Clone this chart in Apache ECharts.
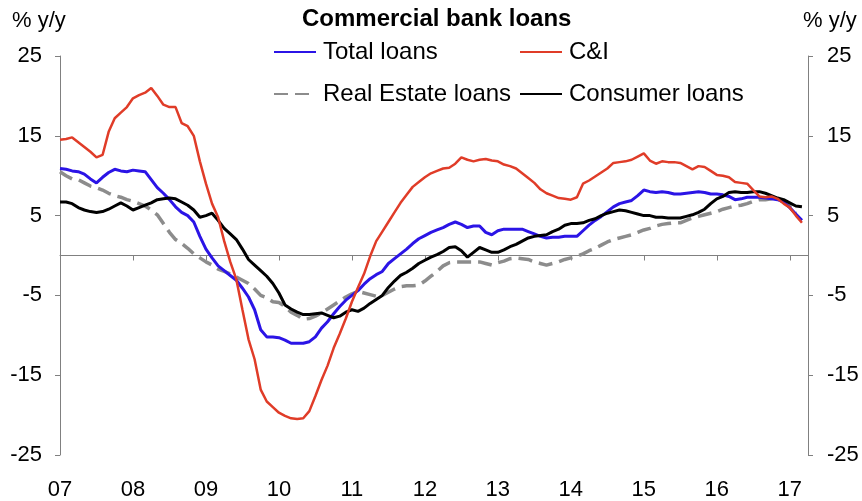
<!DOCTYPE html>
<html>
<head>
<meta charset="utf-8">
<script src="https://cdn.jsdelivr.net/npm/echarts@6/dist/echarts.min.js"></script>
<style>
  html, body { margin: 0; padding: 0; background: #fff; }
  #chart { width: 862px; height: 501px; }
</style>
</head>
<body>
<div id="chart"></div>
<script>
// Monthly observations, Jan 2007 onward (% y/y)
const totalLoans = [
  10.9, 10.8, 10.6, 10.5, 10.2, 9.6, 9.1, 9.8, 10.4, 10.8, 10.6, 10.5,
  10.7, 10.6, 10.5, 9.5, 8.5, 7.8, 7.0, 6.1, 5.4, 5.0, 4.2, 2.4,
  0.8, -0.3, -1.3, -1.9, -2.5, -3.1, -4.1, -5.2, -6.8, -9.3, -10.2, -10.2,
  -10.3, -10.6, -11.0, -11.0, -11.0, -10.8, -10.2, -9.1, -8.3, -7.3, -6.4, -5.6,
  -5.0, -4.4, -3.6, -2.9, -2.4, -2.0, -1.0, -0.4, 0.2, 0.8, 1.5, 2.1,
  2.5, 2.9, 3.2, 3.5, 3.9, 4.2, 3.9, 3.5, 3.7, 3.7, 2.9, 2.6,
  3.1, 3.3, 3.3, 3.3, 3.3, 3.0, 2.7, 2.4, 2.2, 2.3, 2.3, 2.4,
  2.4, 2.4, 3.1, 3.8, 4.4, 4.9, 5.5, 6.1, 6.5, 6.7, 6.9, 7.5,
  8.2, 8.0, 7.9, 8.0, 7.9, 7.7, 7.7, 7.8, 7.9, 8.0, 7.9, 7.7,
  7.7, 7.6, 7.4, 7.0, 7.1, 7.3, 7.3, 7.3, 7.2, 7.1, 7.0, 6.7,
  6.0, 5.2, 4.4
];

const cAndI = [
  14.5, 14.6, 14.8, 14.2, 13.6, 13.0, 12.3, 12.6, 15.5, 17.2, 17.9, 18.6,
  19.7, 20.1, 20.4, 21.0, 20.0, 18.9, 18.6, 18.6, 16.6, 16.2, 15.0, 11.8,
  9.0, 6.5, 4.8, 1.8, -0.8, -3.0, -6.8, -10.5, -13.0, -16.8, -18.3, -19.0,
  -19.7, -20.1, -20.4, -20.5, -20.4, -19.5, -17.6, -15.6, -13.8, -11.6, -9.8, -7.9,
  -5.8, -4.0, -2.3, -0.1, 1.8, 3.0, 4.2, 5.4, 6.6, 7.6, 8.6, 9.2,
  9.8, 10.3, 10.6, 10.9, 11.0, 11.5, 12.3, 12.0, 11.8, 12.0, 12.1, 11.9,
  11.8, 11.4, 11.2, 10.9, 10.3, 9.7, 9.1, 8.3, 7.8, 7.5, 7.2, 7.1,
  7.0, 7.3, 9.0, 9.4, 9.9, 10.4, 10.9, 11.6, 11.7, 11.8, 12.0, 12.4,
  12.8, 11.9, 11.5, 11.8, 11.7, 11.7, 11.6, 11.2, 10.8, 11.2, 11.1, 10.6,
  10.1, 10.0, 9.8, 9.2, 9.1, 9.0, 8.2, 7.4, 7.3, 7.4, 7.1, 6.5,
  6.0, 5.0, 4.1
];

const realEstate = [
  10.5, 10.0, 9.6, 9.5, 9.1, 8.7, 8.5, 8.2, 7.8, 7.5, 7.3, 7.0,
  6.8, 6.5, 6.2, 5.7, 5.1, 4.0, 2.9, 2.0, 1.5, 0.9, 0.2, -0.3,
  -0.8, -1.2, -1.7, -2.0, -2.3, -2.7, -3.1, -3.5, -4.2, -5.0, -5.3, -5.8,
  -5.9, -6.4, -7.1, -7.5, -8.0, -7.9, -7.6, -7.2, -6.7, -6.2, -5.7, -5.2,
  -4.8, -4.5, -4.7, -4.9, -5.1, -5.0, -4.6, -4.2, -3.9, -3.8, -3.8, -3.7,
  -3.2, -2.6, -2.0, -1.3, -0.9, -0.8, -0.8, -0.8, -0.8, -0.8, -1.0, -1.2,
  -0.9, -0.7, -0.4, -0.3, -0.4, -0.5, -0.8, -1.0, -1.2, -1.0, -0.8, -0.5,
  -0.3, -0.1, 0.2, 0.6, 0.9, 1.3, 1.7, 2.0, 2.2, 2.4, 2.6, 2.9,
  3.2, 3.4, 3.7, 3.9, 4.0, 4.1, 4.1, 4.4, 4.7, 4.9, 5.1, 5.3,
  5.5, 5.8, 6.0, 6.2, 6.3, 6.5, 6.8, 7.0, 7.0, 7.1, 7.1, 6.8,
  6.2, 5.3
];

const consumer = [
  6.7, 6.7, 6.5, 6.0, 5.7, 5.5, 5.4, 5.5, 5.8, 6.2, 6.6, 6.2,
  5.7, 6.0, 6.3, 6.6, 7.0, 7.1, 7.2, 7.1, 6.7, 6.3, 5.7, 4.8,
  5.0, 5.3, 4.4, 3.4, 2.7, 2.0, 0.8, -0.5, -1.2, -1.9, -2.6, -3.5,
  -4.7, -6.2, -6.7, -7.1, -7.4, -7.4, -7.3, -7.2, -7.5, -7.8, -7.6, -7.1,
  -6.8, -7.0, -6.6, -6.0, -5.5, -5.0, -4.0, -3.2, -2.5, -2.1, -1.6, -1.0,
  -0.6, -0.2, 0.1, 0.5, 1.0, 1.1, 0.6, -0.2, 0.4, 1.0, 0.7, 0.4,
  0.4, 0.7, 1.1, 1.4, 1.8, 2.2, 2.4, 2.5, 2.6, 3.0, 3.3, 3.8,
  4.0, 4.0, 4.1, 4.4, 4.6, 5.0, 5.3, 5.5, 5.7, 5.6, 5.4, 5.2,
  5.0, 5.0, 4.8, 4.8, 4.7, 4.7, 4.7, 4.9, 5.1, 5.4, 5.8, 6.5,
  7.1, 7.4, 7.9, 8.0, 7.9, 7.9, 8.0, 8.0, 7.8, 7.5, 7.2, 7.0,
  6.6, 6.2, 6.1
];

// Month categories: Jan 2007 through Apr 2017
const months = [];
for (let y = 2007; y <= 2017; y++) {
  for (let m = 1; m <= 12; m++) {
    if (y === 2017 && m > 4) break;
    months.push(y + '-' + String(m).padStart(2, '0'));
  }
}

const yTicks = [-25, -15, -5, 5, 15, 25];

const FONT = 'Liberation Sans, Arial, sans-serif';
const AXIS_GREY = '#808080';
const isJan = (idx) => idx % 12 === 0;

const chart = echarts.init(document.getElementById('chart'), null, { renderer: 'canvas' });

// legend keys are plain line segments (no marker)
const legendBase = {
  orient: 'horizontal',
  padding: 0,
  itemWidth: 42,
  itemHeight: 14,
  itemGap: 0,
  selectedMode: false,
  itemStyle: { color: 'rgba(0,0,0,0)', borderColor: 'rgba(0,0,0,0)', borderWidth: 0, opacity: 0 },
  textStyle: { fontSize: 24, fontFamily: FONT, color: '#000', padding: [0, 0, 0, 2] }
};

const yAxisBase = {
  type: 'value',
  min: -25,
  max: 25,
  interval: 5,
  splitLine: { show: false },
  axisLine: { show: true, lineStyle: { color: AXIS_GREY, width: 1 } },
  axisTick: { show: true, length: 5, customValues: yTicks, lineStyle: { color: AXIS_GREY } },
  axisLabel: { customValues: yTicks, fontSize: 22, fontFamily: FONT, color: '#000' }
};

chart.setOption({
  animation: false,
  backgroundColor: '#fff',
  title: [
    { text: 'Commercial bank loans', left: 302, top: 7, padding: 0,
      textStyle: { fontSize: 24, fontWeight: 'bold', fontFamily: FONT, color: '#000' } },
    { text: '% y/y', left: 12, top: 10, padding: 0,
      textStyle: { fontSize: 22, fontWeight: 'normal', fontFamily: FONT, color: '#000' } },
    { text: '% y/y', left: 803, top: 10, padding: 0,
      textStyle: { fontSize: 22, fontWeight: 'normal', fontFamily: FONT, color: '#000' } }
  ],
  legend: [
    Object.assign({}, legendBase, { data: ['Total loans'], left: 273, top: 40 }),
    Object.assign({}, legendBase, { data: ['C&I'], left: 519, top: 40 }),
    Object.assign({}, legendBase, { data: ['Real Estate loans'], left: 273, top: 82 }),
    Object.assign({}, legendBase, { data: ['Consumer loans'], left: 519, top: 82 })
  ],
  grid: { left: 60, right: 54, top: 56, bottom: 46, containLabel: false },
  xAxis: [
    {
      // axis line drawn through zero, ticks each January
      type: 'category',
      data: months,
      boundaryGap: false,
      position: 'bottom',
      axisLine: { show: true, onZero: true, lineStyle: { color: AXIS_GREY, width: 1 } },
      axisTick: { show: true, length: 5, interval: isJan, lineStyle: { color: AXIS_GREY } },
      axisLabel: { show: false },
      splitLine: { show: false }
    },
    {
      // year labels along the bottom edge
      type: 'category',
      data: months,
      boundaryGap: false,
      position: 'bottom',
      axisLine: { show: false, onZero: false },
      axisTick: { show: false },
      axisLabel: {
        show: true,
        interval: isJan,
        margin: 24,
        fontSize: 22,
        fontFamily: FONT,
        color: '#000',
        formatter: (v) => v.slice(2, 4)
      },
      splitLine: { show: false }
    }
  ],
  yAxis: [
    Object.assign({}, yAxisBase, { position: 'left',
      axisLabel: Object.assign({}, yAxisBase.axisLabel, { margin: 18 }) }),
    Object.assign({}, yAxisBase, { position: 'right',
      axisLabel: Object.assign({}, yAxisBase.axisLabel, { margin: 19 }) })
  ],
  series: [
    {
      name: 'Real Estate loans', type: 'line', data: realEstate,
      xAxisIndex: 0, yAxisIndex: 0, symbol: 'none', smooth: false,
      lineStyle: { color: '#8c8c8c', width: 3.5, type: [14, 7] },
      itemStyle: { color: '#8c8c8c' }
    },
    {
      name: 'Total loans', type: 'line', data: totalLoans,
      xAxisIndex: 0, yAxisIndex: 0, symbol: 'none',
      lineStyle: { color: '#2b14e6', width: 3 },
      itemStyle: { color: '#2b14e6' }
    },
    {
      name: 'Consumer loans', type: 'line', data: consumer,
      xAxisIndex: 0, yAxisIndex: 0, symbol: 'none',
      lineStyle: { color: '#000000', width: 3 },
      itemStyle: { color: '#000000' }
    },
    {
      name: 'C&I', type: 'line', data: cAndI,
      xAxisIndex: 0, yAxisIndex: 0, symbol: 'none',
      lineStyle: { color: '#e03c28', width: 2.5 },
      itemStyle: { color: '#e03c28' }
    }
  ]
});
</script>
</body>
</html>
